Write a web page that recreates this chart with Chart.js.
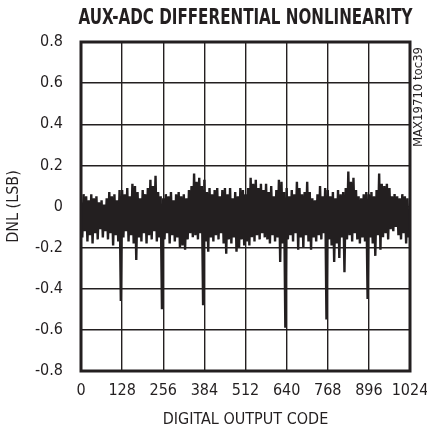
<!DOCTYPE html>
<html>
<head>
<meta charset="utf-8">
<script src="https://cdn.jsdelivr.net/npm/chart.js@4.4.1/dist/chart.umd.min.js"></script>
<style>
  html, body { margin: 0; padding: 0; background: #ffffff; }
  #wrap { width: 427px; height: 431px; position: relative; }
</style>
</head>
<body>
<div id="wrap"><canvas id="c" width="427" height="431"></canvas></div>
<script>
// ---- Chart text ----
const chartTitle = "AUX-ADC DIFFERENTIAL NONLINEARITY";
const xTitle = "DIGITAL OUTPUT CODE";
const yTitle = "DNL (LSB)";
const sideNote = "MAX19710 toc39";

// ---- Axis ticks ----
const xTicks = [0, 128, 256, 384, 512, 640, 768, 896, 1024];
const yTicks = [-0.8, -0.6, -0.4, -0.2, 0, 0.2, 0.4, 0.6, 0.8];

// ---- Digital output code sampled every 4 codes (0..1024) ----
const codeStep = 4;

const dnl = [
  0.02,-0.15, 0.06,-0.12, 0.05,-0.17, 0.03,-0.14, 0.06,-0.18, 0.04,-0.13, 0.05,-0.16, 0.02,-0.11,
  0.03,-0.15, 0.01,-0.12, 0.04,-0.16, 0.07,-0.13, 0.05,-0.19, 0.06,-0.14, 0.03,-0.17, 0.08,-0.46,
  0.08,-0.15, 0.06,-0.12, 0.09,-0.17, 0.05,-0.14, 0.11,-0.18, 0.10,-0.26, 0.07,-0.15, 0.04,-0.17,
  0.08,-0.13, 0.06,-0.18, 0.09,-0.14, 0.13,-0.16, 0.10,-0.12, 0.15,-0.17, 0.07,-0.15, 0.05,-0.50,
  0.04,-0.16, 0.06,-0.13, 0.05,-0.18, 0.07,-0.14, 0.03,-0.17, 0.06,-0.15, 0.07,-0.20, 0.05,-0.19,
  0.06,-0.21, 0.04,-0.16, 0.08,-0.13, 0.10,-0.15, 0.16,-0.14, 0.12,-0.16, 0.14,-0.13, 0.10,-0.48,
  0.13,-0.17, 0.07,-0.22, 0.09,-0.15, 0.06,-0.17, 0.08,-0.14, 0.09,-0.16, 0.05,-0.13, 0.08,-0.18,
  0.09,-0.23, 0.06,-0.16, 0.09,-0.18, 0.04,-0.15, 0.07,-0.22, 0.05,-0.20, 0.09,-0.16, 0.08,-0.19,
  0.06,-0.17, 0.09,-0.19, 0.14,-0.15, 0.11,-0.17, 0.13,-0.14, 0.09,-0.16, 0.11,-0.13, 0.08,-0.15,
  0.11,-0.16, 0.07,-0.18, 0.10,-0.14, 0.05,-0.17, 0.08,-0.15, 0.13,-0.27, 0.12,-0.18, 0.07,-0.59,
  0.09,-0.16, 0.05,-0.14, 0.08,-0.17, 0.06,-0.13, 0.12,-0.21, 0.09,-0.15, 0.06,-0.20, 0.07,-0.14,
  0.12,-0.17, 0.07,-0.21, 0.04,-0.15, 0.03,-0.17, 0.06,-0.14, 0.10,-0.16, 0.05,-0.13, 0.09,-0.55,
  0.08,-0.16, 0.05,-0.19, 0.07,-0.27, 0.04,-0.18, 0.08,-0.25, 0.06,-0.15, 0.07,-0.32, 0.09,-0.16,
  0.17,-0.14, 0.12,-0.17, 0.14,-0.13, 0.08,-0.16, 0.05,-0.18, 0.04,-0.15, 0.06,-0.17, 0.07,-0.45,
  0.06,-0.15, 0.07,-0.18, 0.05,-0.24, 0.08,-0.14, 0.16,-0.21, 0.11,-0.15, 0.10,-0.13, 0.11,-0.16,
  0.09,-0.11, 0.05,-0.12, 0.06,-0.10, 0.05,-0.14, 0.04,-0.16, 0.06,-0.13, 0.05,-0.18, 0.04,-0.15,
  -0.02
];
const codes = dnl.map((_, i) => i * codeStep);

const INK = '#231f20';
const NARROW = "'Liberation Sans Narrow', 'DejaVu Sans Condensed', 'Arial Narrow', sans-serif";

const framePlugin = {
  id: 'frameAndText',
  afterDatasetsDraw(chart) {
    const { ctx, chartArea: a } = chart;
    ctx.save();
    ctx.strokeStyle = INK;
    ctx.lineWidth = 3;
    ctx.strokeRect(a.left, a.top, a.right - a.left, a.bottom - a.top);
    ctx.restore();
  },
  afterDraw(chart) {
    const { ctx, chartArea: a } = chart;
    ctx.save();
    ctx.fillStyle = INK;
    ctx.textAlign = 'center';
    ctx.textBaseline = 'alphabetic';
    ctx.font = "bold 22px " + NARROW;
    ctx.fillText(chartTitle, (a.left + a.right) / 2, 24, 334);
    // side note, rotated
    ctx.translate(a.right + 9, a.top + 55);
    ctx.rotate(-Math.PI / 2);
    ctx.textBaseline = 'middle';
    ctx.font = "13px 'DejaVu Sans Condensed', 'DejaVu Sans', sans-serif";
    ctx.fillText(sideNote, 0, 0, 106);
    ctx.restore();
  }
};

new Chart(document.getElementById('c'), {
  type: 'line',
  data: {
    datasets: [{
      data: dnl.map((v, i) => ({ x: codes[i], y: v })),
      borderColor: INK,
      borderWidth: 2.4,
      pointRadius: 0,
      tension: 0,
      fill: false
    }]
  },
  options: {
    responsive: false,
    animation: false,
    devicePixelRatio: 1,
    layout: { padding: { left: 0, right: 17, top: 42, bottom: 0 } },
    plugins: { legend: { display: false }, tooltip: { enabled: false }, title: { display: false } },
    scales: {
      x: {
        type: 'linear',
        min: 0, max: 1024,
        afterBuildTicks(scale) { scale.ticks = xTicks.map(v => ({ value: v })); },
        afterFit(scale) { scale.height = 60; scale.paddingLeft = 0; scale.paddingRight = 0; },
        grid: { color: INK, lineWidth: 1.4, drawTicks: false },
        border: { display: false },
        ticks: {
          color: INK, padding: 10, maxRotation: 0, autoSkip: false,
          font: { family: NARROW, size: 16 },
          callback: v => String(v)
        },
        title: { display: true, text: xTitle, color: INK, padding: { top: 0, bottom: 2 }, font: { family: NARROW, size: 16 } }
      },
      y: {
        min: -0.8, max: 0.8,
        afterBuildTicks(scale) { scale.ticks = yTicks.map(v => ({ value: v })); },
        afterFit(scale) { scale.width = 81; },
        grid: { color: INK, lineWidth: 1.4, drawTicks: false },
        border: { display: false },
        ticks: {
          color: INK, padding: 18, autoSkip: false, font: { family: NARROW, size: 16 },
          callback: v => (Math.abs(v) < 1e-9 ? '0' : v.toFixed(1))
        },
        title: { display: true, text: yTitle, color: INK, padding: { top: 4, bottom: 0 }, font: { family: NARROW, size: 16 } }
      }
    }
  },
  plugins: [framePlugin]
});
</script>
</body>
</html>
